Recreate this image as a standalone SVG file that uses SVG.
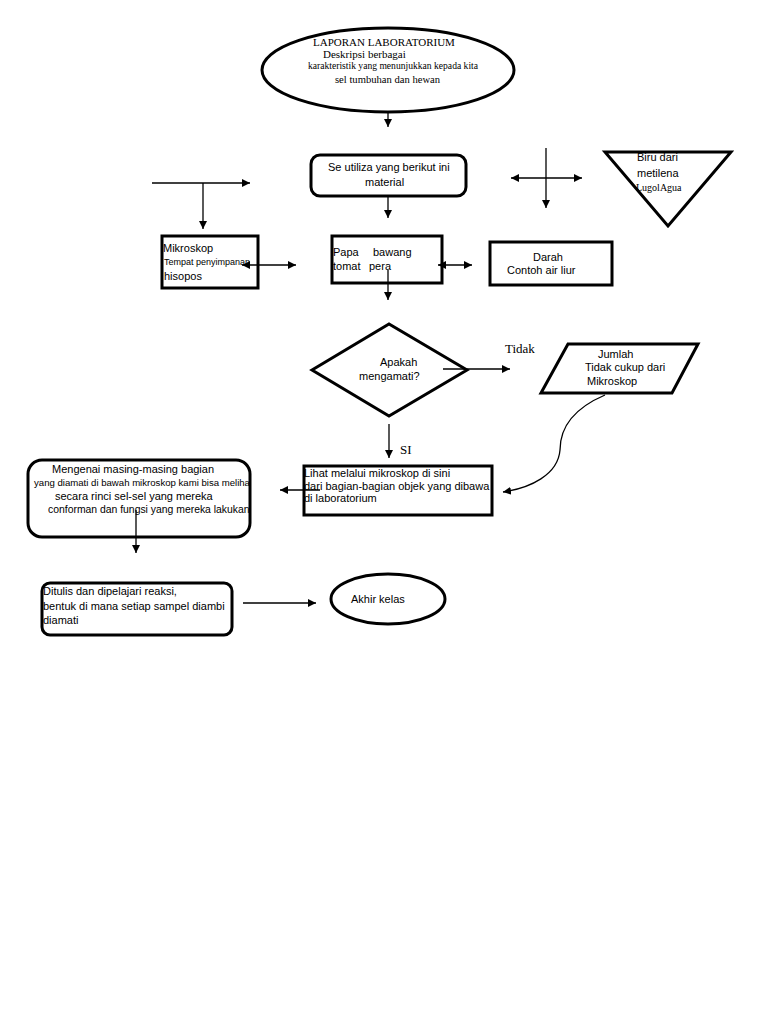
<svg xmlns="http://www.w3.org/2000/svg" width="768" height="1024" viewBox="0 0 768 1024">
<style>
.s{fill:#fff;stroke:#000;stroke-width:3}
.l{fill:none;stroke:#000;stroke-width:1.3}
.t{font-family:"Liberation Sans",Arial,sans-serif;font-size:11px;fill:#000}
.sm{font-family:"Liberation Sans",Arial,sans-serif;font-size:9px;fill:#000}
.r{font-family:"Liberation Serif","Times New Roman",serif;font-size:11px;fill:#000}
</style>
<defs>
<marker id="a" viewBox="0 0 10 10" refX="10" refY="5" markerWidth="8" markerHeight="8" markerUnits="userSpaceOnUse" orient="auto-start-reverse"><path d="M0,0L10,5L0,10z" fill="#000"/></marker>
</defs>
<rect width="768" height="1024" fill="#fff"/>
<g id="n-laporan">
<ellipse class="s" cx="388" cy="70" rx="126" ry="42"/>
<text class="r" x="313" y="46">LAPORAN LABORATORIUM</text>
<text class="r" x="323" y="58">Deskripsi berbagai</text>
<text class="r" x="308" y="69" style="font-size:9.6px">karakteristik yang menunjukkan kepada kita</text>
<text class="r" x="335" y="83" style="font-size:10.6px">sel tumbuhan dan hewan</text>
</g>
<g id="n-se-utiliza">
<rect class="s" x="311" y="155" width="155" height="41" rx="9"/>
<text class="t" x="328" y="171">Se utiliza yang berikut ini</text>
<text class="t" x="365" y="186">material</text>
</g>
<g id="n-mikroskop">
<rect class="s" x="162" y="236" width="96" height="52"/>
<text class="t" x="163" y="252">Mikroskop</text>
<text class="sm" x="164" y="265">Tempat penyimpanan</text>
<text class="t" x="164" y="280">hisopos</text>
</g>
<g id="n-papa">
<rect class="s" x="332" y="236" width="110" height="47"/>
<text class="t" x="333" y="256">Papa</text>
<text class="t" x="373" y="256">bawang</text>
<text class="t" x="333" y="270">tomat</text>
<text class="t" x="369" y="270">pera</text>
</g>
<g id="n-darah">
<rect class="s" x="490" y="242" width="122" height="43"/>
<text class="t" x="533" y="261">Darah</text>
<text class="t" x="507" y="274">Contoh air liur</text>
</g>
<g id="n-biru">
<polygon class="s" points="605,152 731,152 668,226"/>
<text class="t" x="637" y="161">Biru dari</text>
<text class="t" x="637" y="177">metilena</text>
<text class="r" x="636" y="191" style="font-size:10px">LugolAgua</text>
</g>
<g id="n-apakah">
<polygon class="s" points="312,370 389,324 467,370 389,416"/>
<text class="t" x="380" y="366">Apakah</text>
<text class="t" x="359" y="380">mengamati?</text>
</g>
<g id="n-jumlah">
<polygon class="s" points="568,344 698,344 672,393 541,393"/>
<text class="t" x="598" y="358">Jumlah</text>
<text class="t" x="585" y="371">Tidak cukup dari</text>
<text class="t" x="587" y="385">Mikroskop</text>
</g>
<g id="n-lihat">
<rect class="s" x="304" y="466" width="188" height="49"/>
<text class="t" x="304" y="477">Lihat melalui mikroskop di sini</text>
<text class="t" x="304" y="490">dari bagian-bagian objek yang dibawa</text>
<text class="t" x="304" y="502">di laboratorium</text>
</g>
<g id="n-mengenai">
<rect class="s" x="28" y="460" width="222" height="77" rx="14"/>
<text class="t" x="52" y="473">Mengenai masing-masing bagian</text>
<text class="sm" x="34" y="486" style="font-size:9.6px">yang diamati di bawah mikroskop kami bisa meliha</text>
<text class="t" x="55" y="500">secara rinci sel-sel yang mereka</text>
<text class="sm" x="48" y="513" style="font-size:10.4px">conforman dan fungsi yang mereka lakukan</text>
</g>
<g id="n-ditulis">
<rect class="s" x="42" y="583" width="190" height="52" rx="8"/>
<text class="t" x="43" y="595">Ditulis dan dipelajari reaksi,</text>
<text class="t" x="43" y="610">bentuk di mana setiap sampel diambi</text>
<text class="t" x="43" y="624">diamati</text>
</g>
<g id="n-akhir">
<ellipse class="s" cx="388" cy="599" rx="57" ry="25"/>
<text class="t" x="351" y="603">Akhir kelas</text>
</g>
<g id="connectors">
<line class="l" x1="388" y1="113" x2="388" y2="127" marker-end="url(#a)"/>
<line class="l" x1="388" y1="196" x2="388" y2="218" marker-end="url(#a)"/>
<line class="l" x1="152" y1="183" x2="250" y2="183" marker-end="url(#a)"/>
<line class="l" x1="203" y1="183" x2="203" y2="229" marker-end="url(#a)"/>
<line class="l" x1="242" y1="265" x2="296" y2="265" marker-start="url(#a)" marker-end="url(#a)"/>
<line class="l" x1="438" y1="265" x2="472" y2="265" marker-start="url(#a)" marker-end="url(#a)"/>
<line class="l" x1="511" y1="178" x2="582" y2="178" marker-start="url(#a)" marker-end="url(#a)"/>
<line class="l" x1="546" y1="148" x2="546" y2="208" marker-end="url(#a)"/>
<line class="l" x1="388" y1="270" x2="388" y2="300" marker-end="url(#a)"/>
<line class="l" x1="443" y1="369" x2="510" y2="369" marker-end="url(#a)"/>
<line class="l" x1="389" y1="424" x2="389" y2="458" marker-end="url(#a)"/>
<path class="l" d="M605,395C570,410 560,430 560,450C558,475 530,488 503,492" marker-end="url(#a)"/>
<line class="l" x1="320" y1="490" x2="280" y2="490" marker-end="url(#a)"/>
<line class="l" x1="136" y1="510" x2="136" y2="553" marker-end="url(#a)"/>
<line class="l" x1="243" y1="603" x2="316" y2="603" marker-end="url(#a)"/>
<text class="r" x="505" y="353" style="font-size:13px">Tidak</text>
<text class="r" x="400" y="454" style="font-size:13px">SI</text>
</g>
</svg>
